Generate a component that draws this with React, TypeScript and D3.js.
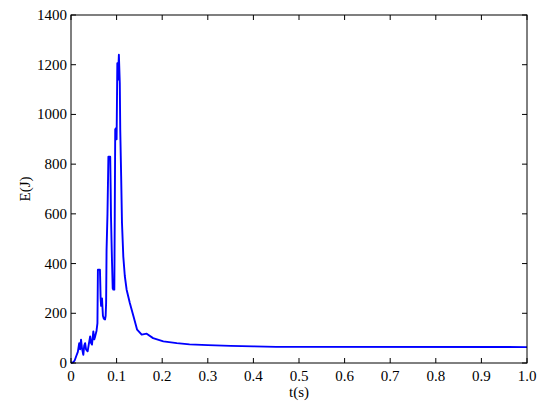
import React from "react";
import * as d3 from "d3";

const tValues = [
  0, 0.005, 0.008, 0.012, 0.015, 0.018, 0.02, 0.022, 0.024, 0.027, 0.029, 0.031, 0.033, 0.0365,
  0.039, 0.042, 0.044, 0.046, 0.049, 0.051, 0.053, 0.056, 0.058, 0.059, 0.0635,
  0.065, 0.066, 0.068, 0.07, 0.072, 0.0746, 0.076, 0.077, 0.078, 0.08, 0.082, 0.086, 0.087,
  0.0877, 0.089, 0.09, 0.0915, 0.0928, 0.095, 0.096, 0.097, 0.099, 0.1, 0.1016, 0.103, 0.105,
  0.107, 0.108, 0.11, 0.1118, 0.1147, 0.118, 0.122, 0.129, 0.137, 0.145, 0.155, 0.166, 0.18,
  0.2025, 0.232, 0.26, 0.3, 0.35, 0.4, 0.45, 0.5, 1.0,
];
const eValues = [
  0, 3, 10, 30, 45, 80, 55, 94, 60, 33, 70, 80, 55, 47,
  75, 107, 80, 74, 127, 95, 107, 130, 160, 375, 375,
  260, 230, 260, 190, 178, 175, 190, 241, 455, 600, 830, 830, 700,
  590, 480, 402, 300, 295, 295, 600, 940, 945, 900, 1206, 1140, 1240,
  1125, 938, 750, 564, 428, 350, 295, 241, 188, 134, 114, 118, 100,
  87, 80, 75, 72, 69, 67, 65, 65, 64,
];
const xTicks = [0, 0.1, 0.2, 0.3, 0.4, 0.5, 0.6, 0.7, 0.8, 0.9, 1.0];
const xTickLabels = ["0", "0.1", "0.2", "0.3", "0.4", "0.5", "0.6", "0.7", "0.8", "0.9", "1.0"];
const yTicks = [0, 200, 400, 600, 800, 1000, 1200, 1400];

export default function App() {
  const W = 550, H = 412;
  const left = 71, right = 527, top = 15, bottom = 363;
  const x = d3.scaleLinear().domain([0, 1]).range([left, right]);
  const y = d3.scaleLinear().domain([0, 1400]).range([bottom, top]);
  const pts = tValues.map((t, i) => [t, eValues[i]] as [number, number]);
  const line = d3.line<[number, number]>().x(d => x(d[0])).y(d => y(d[1]));
  const font = "'Liberation Serif', 'Times New Roman', serif";
  const tl = 5;
  return (
    <svg width={W} height={H} style={{ position: "absolute", left: 0, top: 0, background: "#fff" }}>
      <rect x={0} y={0} width={W} height={H} fill="#fff" />
      <path d={line(pts) || ""} fill="none" stroke="#0000ff" strokeWidth={1.9} strokeLinejoin="round" />
      <rect x={left} y={top} width={right - left} height={bottom - top} fill="none" stroke="#000" strokeWidth={1} />
      {xTicks.map((v, i) => (
        <g key={"x" + i}>
          <line x1={x(v)} x2={x(v)} y1={bottom} y2={bottom - tl} stroke="#000" />
          <line x1={x(v)} x2={x(v)} y1={top} y2={top + tl} stroke="#000" />
          <text x={x(v)} y={381} textAnchor="middle" fontFamily={font} fontSize={15} fill="#000">
            {xTickLabels[i]}
          </text>
        </g>
      ))}
      {yTicks.map((v, i) => (
        <g key={"y" + i}>
          <line x1={left} x2={left + tl} y1={y(v)} y2={y(v)} stroke="#000" />
          <line x1={right} x2={right - tl} y1={y(v)} y2={y(v)} stroke="#000" />
          <text x={67} y={y(v) + 5} textAnchor="end" fontFamily={font} fontSize={15} fill="#000">
            {String(v)}
          </text>
        </g>
      ))}
      <text x={299} y={397} textAnchor="middle" fontFamily={font} fontSize={15} fill="#000">t(s)</text>
      <text transform={`translate(30,189) rotate(-90)`} textAnchor="middle" fontFamily={font} fontSize={15} fill="#000">E(J)</text>
    </svg>
  );
}
